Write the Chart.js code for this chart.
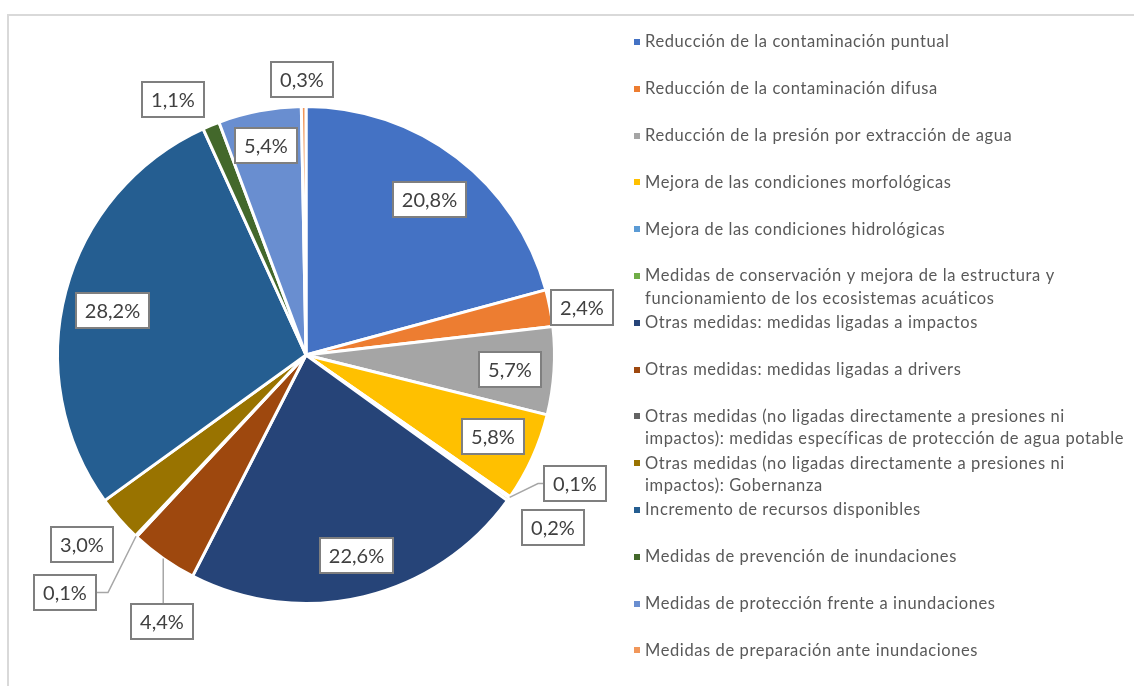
<!DOCTYPE html>
<html lang="es">
<head>
<meta charset="utf-8">
<title>Medidas por tipología</title>
<script src="https://cdn.jsdelivr.net/npm/chart.js@4.4.0/dist/chart.umd.min.js"></script>
<style>
  html, body { margin: 0; padding: 0; background: #fff; }
  #wrap { position: relative; width: 1134px; height: 686px; overflow: hidden; }
  #frame { position: absolute; left: 7px; top: 14px; width: 1200px; height: 720px;
           border-left: 2px solid #D9D9D9; border-top: 2px solid #D9D9D9; }
  #pie { position: absolute; left: 0; top: 0; }
</style>
</head>
<body>
<div id="wrap">
  <div id="frame"></div>
  <canvas id="pie" width="1134" height="686"></canvas>
</div>
<script>
// tipologías de medidas (las de dos líneas van partidas como en la leyenda)
const categories = [
  'Reducción de la contaminación puntual',
  'Reducción de la contaminación difusa',
  'Reducción de la presión por extracción de agua',
  'Mejora de las condiciones morfológicas',
  'Mejora de las condiciones hidrológicas',
  ['Medidas de conservación y mejora de la estructura y', 'funcionamiento de los ecosistemas acuáticos'],
  'Otras medidas: medidas ligadas a impactos',
  'Otras medidas: medidas ligadas a drivers',
  ['Otras medidas (no ligadas directamente a presiones ni', 'impactos): medidas específicas de protección de agua potable'],
  ['Otras medidas (no ligadas directamente a presiones ni', 'impactos): Gobernanza'],
  'Incremento de recursos disponibles',
  'Medidas de prevención de inundaciones',
  'Medidas de protección frente a inundaciones',
  'Medidas de preparación ante inundaciones'
];

// porcentaje sobre el total
const shares = [20.8, 2.4, 5.7, 5.8, 0.1, 0.2, 22.6, 4.4, 0.1, 3.0, 28.2, 1.1, 5.4, 0.3];

const valueLabels = shares.map(v => v.toFixed(1).replace('.', ',') + '%');

const sliceColors = [
  '#4472C4', '#ED7D31', '#A5A5A5', '#FFC000', '#5B9BD5', '#70AD47', '#264478',
  '#9E480E', '#636363', '#997300', '#255E91', '#43682B', '#698ED0', '#F1975A'
];

// colocación de cada etiqueta: distancia relativa al radio y giro en grados
const labelPlacement = [
  { dist: 0.80, turn: 1.0 },
  { dist: 1.125, turn: 1.2 },
  { dist: 0.825, turn: 0.5 },
  { dist: 0.82, turn: -0.7 },
  { dist: 1.20, turn: -9.4, leader: true },
  { dist: 1.21, turn: -0.6 },
  { dist: 0.83, turn: -0.6 },
  { dist: 1.22, turn: -6.7, leader: true },
  { dist: 1.36, turn: 2.3, leader: true },
  { dist: 1.18, turn: 1.1 },
  { dist: 0.80, turn: -2.0 },
  { dist: 1.16, turn: -5.1 },
  { dist: 0.86, turn: 0 },
  { dist: 1.11, turn: -0.3 }
];

const LABEL_FONT = '20px Lato';
const LEGEND_FONT = '16.5px Lato';

const valueBoxes = {
  id: 'valueBoxes',
  afterDatasetsDraw(chart) {
    const ctx = chart.ctx;
    const arcs = chart.getDatasetMeta(0).data;
    ctx.save();
    ctx.font = LABEL_FONT;
    ctx.textAlign = 'center';
    ctx.textBaseline = 'middle';
    arcs.forEach((arc, i) => {
      const p = labelPlacement[i];
      const mid = (arc.startAngle + arc.endAngle) / 2;
      const ang = mid + p.turn * Math.PI / 180;
      const r = arc.outerRadius * p.dist;
      const cx = arc.x + Math.cos(ang) * r;
      const cy = arc.y + Math.sin(ang) * r;
      const w = Math.round(ctx.measureText(valueLabels[i]).width + 18);
      const h = 35;
      const left = Math.round(cx - w / 2);
      const top = Math.round(cy - h / 2);

      if (p.leader) {
        const sx = arc.x + Math.cos(mid) * arc.outerRadius;
        const sy = arc.y + Math.sin(mid) * arc.outerRadius;
        ctx.beginPath();
        ctx.moveTo(sx, sy);
        if (sx < left) {
          ctx.lineTo(left - 6, top + h / 2);
          ctx.lineTo(left, top + h / 2);
        } else if (sx > left + w) {
          ctx.lineTo(left + w + 12, top + h / 2);
          ctx.lineTo(left + w, top + h / 2);
        } else {
          ctx.lineTo(sx, sy < top ? top : top + h);
        }
        ctx.strokeStyle = '#A6A6A6';
        ctx.lineWidth = 1.5;
        ctx.stroke();
      }

      ctx.fillStyle = '#FFFFFF';
      ctx.fillRect(left, top, w, h);
      ctx.strokeStyle = '#7F7F7F';
      ctx.lineWidth = 2;
      ctx.strokeRect(left, top, w, h);
      ctx.fillStyle = '#404040';
      ctx.fillText(valueLabels[i], left + w / 2, top + h / 2 + 1);
    });
    ctx.restore();
  }
};

// leyenda a la derecha, una posición fija por entrada
const sideLegend = {
  id: 'sideLegend',
  afterDraw(chart) {
    const ctx = chart.ctx;
    const x = 634, y0 = 42, step = 46.8, lineH = 22.5;
    ctx.save();
    ctx.font = LEGEND_FONT;
    ctx.letterSpacing = '0.6px';
    ctx.textBaseline = 'middle';
    ctx.textAlign = 'left';
    categories.forEach((cat, i) => {
      const y = y0 + i * step;
      ctx.fillStyle = sliceColors[i];
      ctx.fillRect(x, Math.round(y - 3), 6, 6);
      ctx.fillStyle = '#595959';
      const lines = Array.isArray(cat) ? cat : [cat];
      lines.forEach((ln, k) => ctx.fillText(ln, x + 11, y + k * lineH));
    });
    ctx.restore();
  }
};

new Chart(document.getElementById('pie'), {
  type: 'pie',
  data: {
    labels: categories,
    datasets: [{
      data: shares,
      backgroundColor: sliceColors,
      borderColor: '#FFFFFF',
      borderWidth: 3
    }]
  },
  options: {
    responsive: false,
    devicePixelRatio: 1,
    animation: false,
    layout: { padding: { left: 56, right: 578, top: 105, bottom: 81 } },
    plugins: {
      legend: { display: false },
      tooltip: { enabled: false }
    }
  },
  plugins: [valueBoxes, sideLegend]
});
</script>
</body>
</html>
